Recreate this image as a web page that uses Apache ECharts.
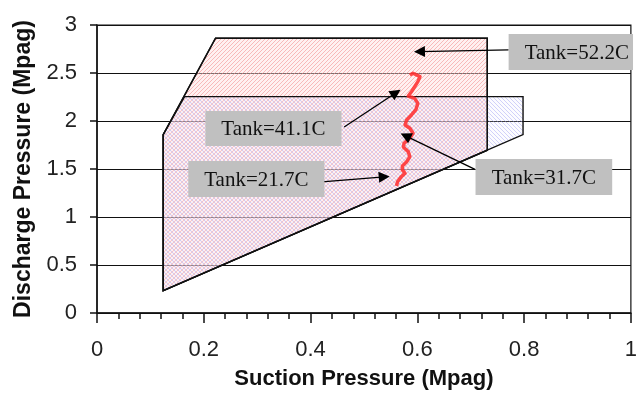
<!DOCTYPE html>
<html>
<head>
<meta charset="utf-8">
<script src="https://cdn.jsdelivr.net/npm/echarts@6/dist/echarts.min.js"></script>
<style>html,body{margin:0;padding:0;background:#fff}#c{width:640px;height:400px}</style>
</head>
<body>
<div id="c"></div>
<script>
// Operating envelope, Tank=52.2C (red) and lower tank temperatures (blue)
var redX  = [0.124, 0.124, 0.222, 0.731, 0.731];
var redY  = [0.232, 1.858, 2.862, 2.862, 1.696];
var blueX = [0.124, 0.124, 0.164, 0.798, 0.798];
var blueY = [0.232, 1.858, 2.254, 2.254, 1.858];

// Measured operating trace (red squiggle)
var traceX = [0.586,0.592,0.605,0.601,0.595,0.589,0.583,0.595,0.601,0.597,0.589,0.580,0.577,0.586,0.592,0.586,0.575,0.574,0.583,0.586,0.580,0.572,0.572,0.577,0.569,0.563,0.561];
var traceY = [2.479,2.497,2.462,2.410,2.357,2.305,2.260,2.236,2.184,2.115,2.063,2.010,1.958,1.924,1.872,1.820,1.767,1.726,1.681,1.628,1.576,1.531,1.490,1.455,1.413,1.368,1.323];

// Annotation boxes: [x1, y1, x2, y2] in data units and their labels
var boxLabels = ['Tank=52.2C', 'Tank=41.1C', 'Tank=21.7C', 'Tank=31.7C'];
var boxX1 = [0.771, 0.203, 0.171, 0.709];
var boxY1 = [2.906, 2.104, 1.583, 1.604];
var boxX2 = [1.004, 0.458, 0.426, 0.965];
var boxY2 = [2.531, 1.740, 1.208, 1.229];

// Arrows: from (ax1, ay1) to tip (ax2, ay2)
var arrX1 = [0.771, 0.463, 0.421, 0.708];
var arrY1 = [2.741, 1.938, 1.365, 1.496];
var arrX2 = [0.604, 0.560, 0.538, 0.578];
var arrY2 = [2.723, 2.295, 1.418, 1.845];

// Axis tick labels
var xTickLabels = ['0', '0.2', '0.4', '0.6', '0.8', '1'];
var yTickLabels = ['0', '0.5', '1', '1.5', '2', '2.5', '3'];

function hatch(color, dir, bg) {
  var c = document.createElement('canvas');
  c.width = 4; c.height = 4;
  var g = c.getContext('2d');
  if (bg) { g.fillStyle = bg; g.fillRect(0, 0, 4, 4); }
  g.strokeStyle = color; g.lineWidth = 1;
  g.beginPath();
  if (dir > 0) {
    g.moveTo(-1, 5); g.lineTo(5, -1);
    g.moveTo(-1, 1); g.lineTo(1, -1);
    g.moveTo(3, 5); g.lineTo(5, 3);
  } else {
    g.moveTo(-1, -1); g.lineTo(5, 5);
    g.moveTo(3, -1); g.lineTo(5, 1);
    g.moveTo(-1, 3); g.lineTo(1, 5);
  }
  g.stroke();
  return c;
}
var redPat = hatch('rgba(242,140,140,0.55)', 1, 'rgba(255,225,225,0.45)');
var bluePat = hatch('rgba(150,150,240,0.42)', -1, 'rgba(240,238,255,0.2)');

function pairs(xs, ys) { return xs.map(function (x, i) { return [x, ys[i]]; }); }

function polySeries(xs, ys, pat, z) {
  var pts = pairs(xs, ys);
  return {
    type: 'custom', coordinateSystem: 'cartesian2d', silent: true, clip: false,
    data: pts,
    renderItem: function (params, api) {
      if (params.dataIndex !== 0) return;
      var p = pts.map(function (d) { return api.coord(d); });
      return {
        type: 'polygon', shape: { points: p },
        style: pat ? { fill: { image: pat, repeat: 'repeat' }, stroke: '#111', lineWidth: 1.4 }
                   : { fill: 'none', stroke: '#111', lineWidth: 1.4 }
      };
    },
    z: z
  };
}

var boxData = boxLabels.map(function (t, i) { return [boxX1[i], boxY1[i], boxX2[i], boxY2[i]]; });
var arrowData = arrX1.map(function (x, i) {
  return [{ coord: [x, arrY1[i]] }, { coord: [arrX2[i], arrY2[i]] }];
});

var chart = echarts.init(document.getElementById('c'), null, { renderer: 'canvas' });
chart.setOption({
  animation: false,
  backgroundColor: '#fff',
  grid: { left: 97, right: 6, top: 25, bottom: 87, show: true, borderColor: '#111', borderWidth: 1.2, backgroundColor: 'transparent' },
  xAxis: {
    type: 'value', min: 0, max: 1, interval: 0.2,
    name: 'Suction Pressure (Mpag)', nameLocation: 'middle', nameGap: 55,
    nameTextStyle: { fontFamily: 'Liberation Sans, Arial', fontWeight: 'bold', fontSize: 22, color: '#111' },
    axisLine: { lineStyle: { color: '#111', width: 1.5 } },
    axisTick: { show: true, length: 10, lineStyle: { color: '#111', width: 1.5 } },
    minorTick: { show: true, splitNumber: 5, length: 6, lineStyle: { color: '#111', width: 1.5 } },
    splitLine: { show: false },
    axisLabel: {
      margin: 26, fontFamily: 'Liberation Sans, Arial', fontSize: 22, color: '#222',
      formatter: function (v) { return xTickLabels[Math.round(v / 0.2)]; }
    }
  },
  yAxis: {
    type: 'value', min: 0, max: 3, interval: 0.5,
    name: 'Discharge Pressure (Mpag)', nameLocation: 'middle', nameGap: 58,
    nameTextStyle: { fontFamily: 'Liberation Sans, Arial', fontWeight: 'bold', fontSize: 23, color: '#111' },
    axisLine: { show: true, lineStyle: { color: '#111', width: 1.5 } },
    axisTick: { show: true, length: 7, lineStyle: { color: '#111', width: 1.5 } },
    splitLine: { show: true, lineStyle: { color: '#111', width: 1.2 } },
    axisLabel: {
      margin: 20, fontFamily: 'Liberation Sans, Arial', fontSize: 22, color: '#222',
      formatter: function (v) { return yTickLabels[Math.round(v / 0.5)]; }
    }
  },
  series: [
    polySeries(redX, redY, redPat, 2),
    polySeries(blueX, blueY, bluePat, 2),
    polySeries(redX, redY, null, 3),
    {
      type: 'line', data: pairs(traceX, traceY), showSymbol: false, symbol: 'none', smooth: false,
      lineStyle: { color: '#ff2a2a', width: 3.5, opacity: 0.85, join: 'round' }, z: 4, silent: true,
      markLine: {
        silent: true, symbol: ['none', 'triangle'], symbolSize: 11, precision: 3,
        label: { show: false },
        lineStyle: { color: '#000', width: 1.3, type: 'solid', opacity: 1 },
        emphasis: { disabled: true },
        data: arrowData
      }
    },
    {
      type: 'custom', coordinateSystem: 'cartesian2d', silent: true, clip: false, z: 5,
      data: boxData,
      renderItem: function (params, api) {
        var a = api.coord([api.value(0), api.value(1)]);
        var b = api.coord([api.value(2), api.value(3)]);
        return {
          type: 'group',
          children: [
            { type: 'rect', shape: { x: a[0], y: a[1], width: b[0] - a[0], height: b[1] - a[1] }, style: { fill: '#c0c0c0' } },
            { type: 'text', style: { text: boxLabels[params.dataIndex], x: (a[0] + b[0]) / 2 + (params.dataIndex === 0 ? 6 : 0), y: (a[1] + b[1]) / 2 + 1, align: 'center', verticalAlign: 'middle', font: '21px "Liberation Serif", "Times New Roman", serif', fill: '#111' } }
          ]
        };
      }
    }
  ]
});
</script>
</body>
</html>
